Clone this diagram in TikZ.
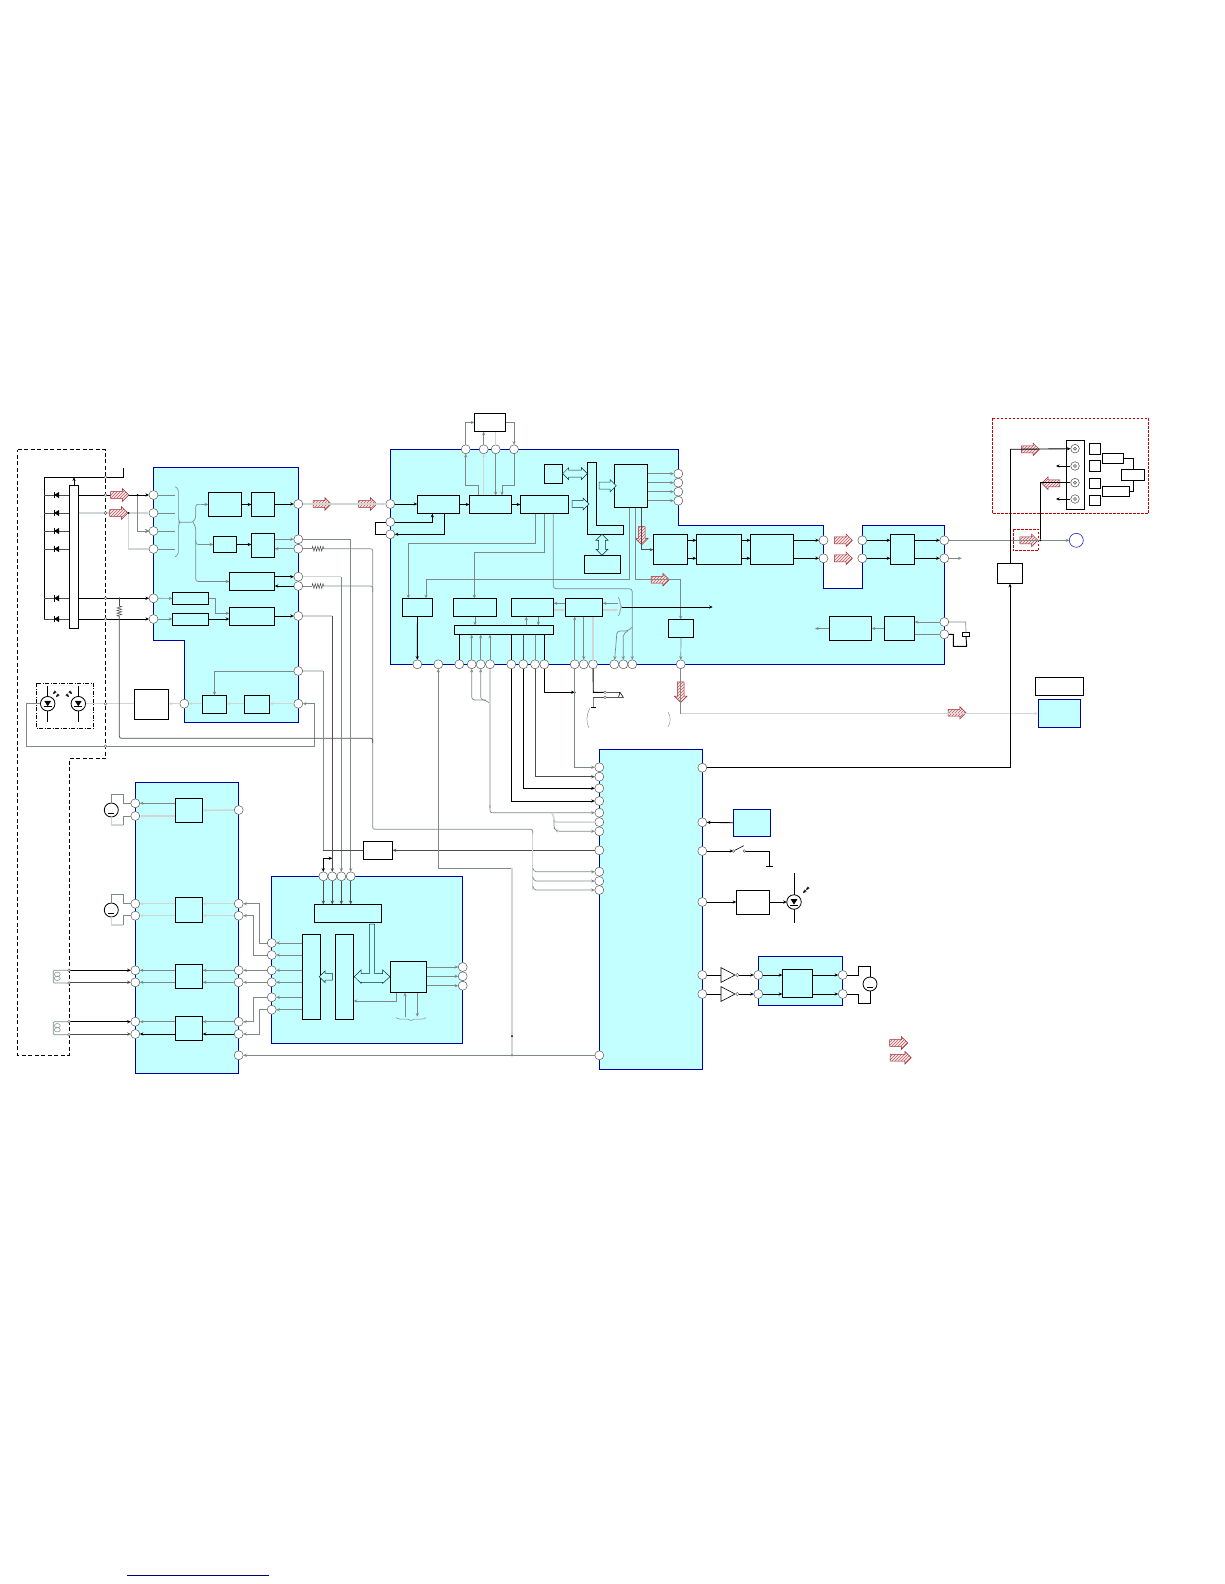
\documentclass[tikz,border=0pt]{standalone}
\usepackage{xcolor}
\usetikzlibrary{arrows.meta,shapes.arrows,patterns,calc,decorations.pathmorphing}
\definecolor{panelfill}{HTML}{C4FFFF}
\definecolor{panelline}{HTML}{0000A8}
\definecolor{hatchred}{HTML}{A02A30}
\definecolor{wiregray}{HTML}{7E8A8A}
\definecolor{wirepale}{HTML}{D0D6D6}
\newcommand{\dsym}[1]{\fill (#1)++(-2.5,0) -- ++(5,-3.2) -- ++(0,6.4) -- cycle; \draw[line width=1pt] (#1)++(-2.7,-3.4) -- ++(0,6.8);}
\newcommand{\ledsym}[1]{\fill (#1)++(-3.4,-2.8) -- ++(6.8,0) -- ++(-3.4,5.4) -- cycle; \draw[line width=.9pt] (#1)++(-4,3) -- ++(8,0);}
\newcommand{\motsym}[1]{\draw[line width=.9pt] (#1)++(-3,3.4) -- ++(6,0);}

\begin{document}
\begin{tikzpicture}[x=1pt,y=-1pt,>={Stealth[length=3.6pt,width=3.2pt]},
  panel/.style={draw=panelline,fill=panelfill,line width=1pt},
  box/.style={draw,line width=.9pt,inner sep=0,outer sep=0},
  wh/.style 2 args={minimum width=#1,minimum height=#2},
  port/.style={circle,draw=black!65,fill=white,line width=.5pt,minimum size=9,inner sep=0,outer sep=0},
  tick/.style={circle,draw=black!70,fill=white,line width=.4pt,minimum size=2.8,inner sep=0},
  dot/.style={circle,fill=black,minimum size=2,inner sep=0},
  wk/.style={black,line width=.9pt},
  wd/.style={black!70,line width=.7pt},
  wg/.style={wiregray,line width=.7pt},
  wp/.style={wirepale,line width=1.5pt},
  rst/.style={black!70,line width=.5pt,decorate,decoration={zigzag,segment length=2.6,amplitude=2.4}},
  hatch/.style={single arrow,draw=hatchred,preaction={fill=red!8},pattern=north east lines,pattern color=hatchred!75,line width=.5pt,
    minimum height=18,minimum width=12,single arrow head extend=2.8,single arrow head indent=0,inner xsep=0,inner ysep=3.2},
  hollow/.style={single arrow,draw=black!60!teal,fill=panelfill,line width=.5pt,
    minimum height=17,minimum width=12,single arrow head extend=2.5,inner xsep=0,inner ysep=3.2},
  hollowd/.style={double arrow,draw=black!60!teal,fill=panelfill,line width=.5pt,
    minimum width=12,double arrow head extend=2.5,inner xsep=0,inner ysep=3.2},
  redframe/.style={draw=red!80!black,line width=.8pt,dash pattern=on 2.5pt off 1.5pt}]
\useasboundingbox (0,0) rectangle (1224,1584);
% panels
\draw[panel] (153.5,467.5) -- (298.3,467.5) -- (298.3,722.5) -- (184.3,722.5) -- (184.3,640) -- (153.5,640) -- cycle;
\draw[panel] (135.3,782.5) rectangle (238.7,1073.3);
\draw[panel] (390.3,449.3) -- (678.3,449.3) -- (678.3,525.3) -- (823.5,525.3) -- (823.5,588.3) -- (862.3,588.3) -- (862.3,525.3) -- (944.3,525.3) -- (944.3,664.3) -- (390.3,664.3) -- cycle;
\draw[panel] (271.7,876.3) rectangle (462.7,1043);
\draw[panel] (599.3,749.3) rectangle (702.3,1069.3);
\draw[panel] (758.3,956.7) rectangle (842.7,1005.3);
\node[panel,inner sep=0,wh={42.4}{28.4}] (disp) at (1059.5,713.5) {};
\node[panel,inner sep=0,wh={37.4}{27.4}] (mem) at (752,823) {};
% frames
\draw[line width=.9pt,dash pattern=on 4pt off 2.5pt] (17.5,449.5) -- (105.5,449.5) -- (105.5,758.5) -- (69,758.5) -- (69,1055) -- (17.5,1055) -- cycle;
\draw[line width=.8pt,dash pattern=on 4pt off 1.5pt on 1pt off 1.5pt] (36.3,683.3) rectangle (93.7,728.3);
\draw[redframe] (992.3,418.3) rectangle (1148.7,513.3);
\draw[redframe] (1013,529) rectangle (1038.7,550.7);
% ports, panel a
\foreach \y [count=\i] in {495,513,531,549,598.3,619} \node[port] (a\i) at (153.5,\y) {};
\foreach \y [count=\i] in {504,539.3,548.7,576.7,586,616,671,703.7} \node[port] (ar\i) at (298.3,\y) {};
\node[port] (aw) at (184.3,703.7) {};
% ports, panel b
\foreach \y [count=\i] in {803.3,816,903.7,915.7,970.3,982.3,1021.7,1034} \node[port] (bl\i) at (135.3,\y) {};
\foreach \y [count=\i] in {810,903.7,915.7,970.3,982.3,1021.7,1034,1055.3} \node[port] (br\i) at (238.7,\y) {};
% ports, panel c
\foreach \x [count=\i] in {465.7,483.7,495.7,514} \node[port] (ct\i) at (\x,449.3) {};
\foreach \y [count=\i] in {504,522,534.3} \node[port] (cl\i) at (390.3,\y) {};
\foreach \y [count=\i] in {473.7,482.7,491.7,500.7} \node[port] (cr\i) at (678.3,\y) {};
\foreach \x [count=\i] in {417.3,438.3,459.3,471.7,480.7,490,511.3,523.3,535,544.3,574.7,583.7,593,614.3,623.3,632.3,680.7} \node[port] (cd\i) at (\x,664.3) {};
\foreach \y [count=\i] in {540.3,558.3} {
  \node[port] (cm\i) at (823.5,\y) {};
  \node[port] (cn\i) at (862.3,\y) {};
  \node[port] (ce\i) at (944.3,\y) {};
}
\foreach \y [count=\i] in {622,634.3} \node[port] (cx\i) at (944.3,\y) {};
% ports, panel d
\foreach \y [count=\i] in {943,955,970.3,982.3,997.3,1009.7} \node[port] (dl\i) at (271.7,\y) {};
\foreach \x [count=\i] in {323.3,332.3,341.3,350.7} \node[port] (dt\i) at (\x,876.3) {};
\foreach \y [count=\i] in {967,976.3,985.7} \node[port] (dr\i) at (462.7,\y) {};
% ports, panel e
\foreach \y [count=\i] in {767.3,776.7,788.3,801,812.7,822,831.3,850.3,871.7,881,890,1055.3} \node[port] (el\i) at (599.3,\y) {};
\foreach \y [count=\i] in {767.7,822.3,851,902,975,994} \node[port] (er\i) at (702.3,\y) {};
\foreach \y [count=\i] in {975,994} {
  \node[port] (fl\i) at (758.3,\y) {};
  \node[port] (fr\i) at (842.7,\y) {};
}
\node[port,draw=blue!80!black,minimum size=14] (out) at (1076.3,540.3) {};
% boxes, panel a
\node[box,fill=white,wh={9.4}{143.4}] (bar) at (74,557) {};
\node[box,wh={33.4}{24.4}] (aa) at (225,504.5) {};
\node[box,wh={23.4}{24.4}] (ab) at (263,504.5) {};
\node[box,wh={23.4}{16.4}] (ac) at (225,544.5) {};
\node[box,wh={23.4}{24}] (ad) at (263,545.3) {};
\node[box,wh={45.4}{18.4}] (ae) at (252,581.5) {};
\node[box,wh={36.4}{12.4}] (af) at (190.5,598.5) {};
\node[box,wh={36.4}{12.4}] (ag) at (190.5,619.5) {};
\node[box,wh={45.4}{18.4}] (ah) at (252,616.5) {};
\node[box,wh={24.4}{18.4}] (ai) at (214.5,704.5) {};
\node[box,wh={25.4}{18.4}] (aj) at (257,704.5) {};
\node[box,fill=white,wh={34.4}{30.4}] (ak) at (151.5,704.5) {};
% boxes, panel b
\node[box,wh={27.4}{24}] (ba) at (189,810.3) {};
\node[box,wh={27.4}{25}] (bb) at (189,909.8) {};
\node[box,wh={27.4}{24}] (bc) at (189,976.3) {};
\node[box,wh={27.4}{24}] (bd) at (189,1028.3) {};
% boxes, panel c
\node[box,fill=white,wh={31.4}{18.4}] (ca) at (490,422.5) {};
\node[box,wh={42.4}{18.4}] (cb) at (438.5,504.5) {};
\node[box,wh={42.4}{18.4}] (cc) at (490.5,504.5) {};
\node[box,wh={48.4}{18.4}] (cdsp) at (544.5,504.5) {};
\node[box,wh={18.4}{19.4}] (ce) at (553.5,474) {};
\node[box,wh={33.4}{43.4}] (cf) at (631,486) {};
\node[box,wh={36.4}{18.4}] (cg) at (602.5,564.5) {};
\node[box,wh={34.4}{30.4}] (ch) at (670.5,549.5) {};
\node[box,wh={45.4}{30.4}] (ci) at (719,549.5) {};
\node[box,wh={43.4}{30.4}] (cj) at (772,549.5) {};
\node[box,wh={24.4}{30.4}] (ck) at (902.5,549.5) {};
\node[box,wh={30.4}{18.4}] (cp) at (417.5,607.5) {};
\node[box,wh={43.4}{18.4}] (cq) at (475,607.5) {};
\node[box,wh={42.4}{18.4}] (cs) at (532.5,607.5) {};
\node[box,wh={37.4}{18.4}] (cu) at (584,607.5) {};
\node[box,wh={99.4}{9.4}] (cv) at (504,630) {};
\node[box,wh={25.4}{18.4}] (cw) at (681,628.5) {};
\node[box,wh={42.4}{24.4}] (cy) at (850.5,628.5) {};
\node[box,wh={30.4}{24.4}] (cz) at (899.5,628.5) {};
% boxes, panel d
\node[box,wh={67.4}{18.4}] (da) at (348,913.5) {};
\node[box,wh={18.4}{85.4}] (db) at (311.5,977) {};
\node[box,wh={18.4}{85.4}] (dc) at (344.5,977) {};
\node[box,wh={36.4}{31.4}] (dd) at (408.5,977) {};
% boxes, outside
\node[box,fill=white,wh={29.4}{18}] (pwr) at (378,850.3) {};
\node[box,fill=white,wh={25.4}{20.4}] (rb) at (1010,573.5) {};
\node[box,fill=white,wh={48.4}{18.4}] (dtop) at (1059.5,686.5) {};
\node[box,fill=white,wh={33.4}{24.4}] (drv) at (753,902.5) {};
\node[box,wh={30.4}{28.4}] (fa) at (797.5,983.5) {};
% jack panel
\node[box,wh={18.4}{69.4}] (jack) at (1075.5,475) {};
\foreach \y [count=\i] in {448.7,466,482.7,499} {
  \node[circle,draw=black!70,fill=white,line width=.5pt,minimum size=8.6,inner sep=0] (t\i) at (1075,\y) {};
  \draw[black!70,line width=.5pt] (t\i.center) circle (1.5);
}
\foreach \y/\h [count=\i] in {449/11,465.8/11,483.5/10.4,500.3/10.7} \node[box,wh={10.7}{\h}] (sq\i) at (1094.6,\y) {};
\node[box,wh={21.4}{10.4}] (ja) at (1113,458.5) {};
\node[box,wh={23.4}{11.4}] (jb) at (1133,475) {};
\node[box,wh={27.4}{10.4}] (jc) at (1116,491.5) {};
% symbols as nodes
\foreach \n/\x/\y in {la/47.7/703.7,lb/78.3/703.7,lc/794/902} \node[circle,draw,line width=.8pt,minimum size=14.5,inner sep=0,outer sep=0] (\n) at (\x,\y) {};
\foreach \n/\x/\y in {ma/111.3/810,mb/111.3/910,mc/870/984} \node[circle,draw,line width=.8pt,minimum size=14,inner sep=0,outer sep=0] (\n) at (\x,\y) {};
\node[box,fill=white,wh={7.4}{4.4}] (xtal) at (966,634.5) {};
% named free ends
\coordinate (busa) at (44.3,477.3);
\coordinate (busb) at (44.3,619);
\coordinate (brc) at (175,500);
\coordinate (rsa) at (312,548.7);
\coordinate (rsb) at (324,548.7);
\coordinate (rsc) at (312,586);
\coordinate (rsd) at (324,586);
\coordinate (rse) at (119.3,606);
\coordinate (rsf) at (119.3,617);
% bus and diodes
\draw[wk] (123.3,468.3) -- (123.3,477.3) -- (busa) -- (busb);
\draw[wk,->] (bar.north) -- (bar.north |- busa);
\foreach \n in {a1,a2,a3,a4,a5,a6} \draw[wd] (busa |- \n) -- (\n -| bar.west);
\draw[wk,->] (a1 -| bar.east) -- (a1);
\draw[wp,->] (a2 -| bar.east) -- (a2);
\draw[wk,->] (a5 -| bar.east) -- (a5);
\draw[wk,->] (a6 -| bar.east) -- (a6);
\foreach \n in {a1,a2,a3,a4,a5,a6} \dsym{$(busa |- \n)+(12.4,0)$}
\draw[wg,->] (137.7,0 |- a1) |- (a3);
\node[dot] at (137.7,0 |- a1) {};
\draw[wp] (128.7,0 |- a2) |- (a4);
\node[dot] at (128.7,0 |- a2) {};
% hatched arrows
\foreach \x/\y in {118/495,117/513,320.5/504,366/504,841.7/540.3,841.7/558.3,1028.7/449.3,1027.2/540.3,955.3/712.7,658.5/579.7,897/1043} \node[hatch] at (\x,\y) {};
\node[hatch,minimum height=21] at (899,1057.7) {};
\node[hatch,shape border rotate=180] at (1052.5,483.3) {};
\node[hatch,rotate=-90] at (641.7,534) {};
\node[hatch,rotate=-90,minimum height=20.5] at (680.7,690.5) {};
% panel a wires
\foreach \n in {a1,a2,a3,a4} \draw[wg] (\n) -- (\n -| brc);
\draw[wiregray,line width=.6pt,rounded corners=2] (175,486.7) -- (178.3,488.5) -- (178.3,520) -- (180,522.3) -- (178.3,525) -- (178.3,555) -- (175,556.7);
\draw[wiregray,line width=.7pt,rounded corners=2.5,->] (180,522.3) -- (193,522.3) -- (195.7,518) -- (195.7,504.3) -- (aa.west);
\draw[wiregray,line width=.7pt,rounded corners=2.5,->] (193,522.3) -- (195.7,527) -- (195.7,544.5) -- (ac.west);
\draw[wiregray,line width=.7pt,rounded corners=2.5,->] (195.7,540) -- (195.7,581.5) -- (ae.west);
\draw[wk,->] (aa) -- (ab);
\draw[wk,->] (ab.east |- ar1) -- (ar1);
\draw[wk,->] (ac) -- (ac -| ad.west);
\draw[wg,->] (ad.east |- ar2) -- (ar2);
\draw[wg,->] (ar3) -- (ad.east |- ar3);
\draw[wk,->] (ae.east |- ar4) -- (ar4);
\draw[wk,->] (ar5) -- (ae.east |- ar5);
\draw[wg,->] (a5) -- (af);
\draw[wg,->] (af.east) -- (215,598.5) -- (215,613.3) -- (ah.west |- 0,613.3);
\draw[wg,->] (a6) -- (a6 -| ag.west);
\draw[wk,->] (ag.east |- a6) -- (ah.west |- a6);
\draw[wk,->] (ah.east |- ar6) -- (ar6);
\draw[wg,->] (ar7) -| (ai);
\draw[wp,->] (ar8) -- (aj.east |- ar8);
\draw[wp,->] (aj.west |- ar8) -- (ai.east |- ar8);
\draw[wp,->] (ai.west |- ar8) -- (aw);
\draw[wp,->] (aw) -- (ak.east |- aw);
\draw[wp] (ak.west |- aw) -- (lb);
\draw[wg,->] (la) -- (26.3,0 |- la) -- (26.3,746.3) -- (314.3,746.3) |- (ar8);
\draw[wk] (78.3,686) -- (lb) -- (78.3,721.7);
\draw[wk] (47.7,686) -- (la) -- (47.7,721.7);
\ledsym{la} \ledsym{lb} \ledsym{lc}
\foreach \x/\y/\a in {53/694/1,56/697/1,72/694/-1,69/697/-1} \draw[line width=.5pt,->] (\x+3*\a,\y-3) -- (\x,\y) ;
\draw[wp,->] (ar1) -- (cl1);
% resistors and long lines
\draw[wg] (ar3) -- (rsa);
\draw[rst] (rsa) -- (rsb);
\draw[wg,rounded corners=2] (rsb) -- (372.7,548.7) -- (372.7,829.3) -- (532.7,829.3) -- (532.7,834);
\draw[wg] (ar5) -- (rsc);
\draw[rst] (rsc) -- (rsd);
\draw[wg,rounded corners=2] (rsd) -- (372.7,586) -- (372.7,592);
\node[dot] at (119.3,0 |- a5) {};
\draw[wd] (119.3,0 |- a5) -- (rse);
\draw[rst] (rse) -- (rsf);
\draw[wd,rounded corners=2] (rsf) -- (119.3,738.3) -- (372.7,738.3) -- (372.7,743);
\draw[wp] (ar2) -- (ar2 -| dt4);
\draw[wg,->] (ar2) -| (dt4);
\draw[wp] (ar4) -- (ar4 -| dt3);
\draw[wg,->] (ar4 -| dt3) -- (dt3);
\draw[wp] (ar6) -- (ar6 -| dt2);
\draw[wd,->] (ar6 -| dt2) -- (dt2);
\draw[wp] (ar7) -- (ar7 -| dt1);
\draw[wg] (ar7 -| dt1) -- (dt1 |- pwr);
\draw[wd] (pwr.west) -- (dt1 |- pwr);
\draw[wk,->] (dt1 |- 0,858.3) -- (dt1);
\draw[wk,->] (dt1 |- 0,858.3) -- (dt2 |- 0,858.3);
\draw[wd,->] (el8) -- (pwr.east);
% panel b wires
\draw[wg,<-] (bl1) -- (bl1 -| ba.west);
\draw[wp,<-] (bl2) -- (bl2 -| ba.west);
\draw[wp,<-] (ba.east) -- (br1);
\draw[wp,<-] (bl3) -- (bl3 -| bb.west);
\draw[wp,<-] (bl4) -- (bl4 -| bb.west);
\draw[wp,<-] (bb.east |- br2) -- (br2);
\draw[wp,<-] (bb.east |- br3) -- (br3);
\draw[wg,<-] (bl5) -- (bl5 -| bc.west);
\draw[wg,<-] (bl6) -- (bl6 -| bc.west);
\draw[wg,<-] (bc.east |- br4) -- (br4);
\draw[wg,<-] (bc.east |- br5) -- (br5);
\draw[wg,<-] (bl7) -- (bl7 -| bd.west);
\draw[wk,<-] (bl8) -- (bl8 -| bd.west);
\draw[wg,<-] (bd.east |- br6) -- (br6);
\draw[wk,<-] (bd.east |- br7) -- (br7);
\foreach \m/\a/\b/\c/\d in {ma/bl1/bl2/794.3/825,mb/bl3/bl4/894.3/925} {
  \draw[wg] (\m) -- (111.3,\c) -- (123.3,\c) |- (\a);
  \draw[wp] (\m) -- (111.3,\d) -- (123.3,\d);
  \draw[wg] (123.3,\d) |- (\b);
}
\motsym{ma} \motsym{mb} \motsym{mc}
% coils
\foreach \a/\b/\c/\d in {bl5/bl6/970.3/983,bl7/bl8/1021.7/1034.7} {
  \draw[wk,<-] (\a) -- (69,0 |- \a);
  \draw[wd,<-] (\b) -- (69,0 |- \b);
  \draw[wg,rounded corners=1] (69,\c) -- (53.3,\c) -- (53.3,\d) -- (69,\d);
  \draw[wg,line width=.5pt] (57.3,\c+4) ellipse (3 and 2.2);
  \draw[wg,line width=.5pt] (57.3,\c+8) ellipse (3 and 2.2);
  \node[tick] at (69,\c) {};
  \node[tick] at (69,\d) {};
}
% ticks on the frame
\foreach \y in {477.3,495,513,598.3,619,703.7,746.3} \node[tick] at (105.5,\y) {};
% b to d
\draw[wg,<-] (br2) -- (259.3,0 |- br2) |- (dl1);
\draw[wg,<-] (br3) -- (253.3,0 |- br3) |- (dl2);
\draw[wg,<-] (br4) -- (dl3);
\draw[wg,<-] (br5) -- (dl4);
\draw[wg,<-] (br6) -- (253.3,0 |- br6) |- (dl5);
\draw[wg,<-] (br7) -- (259.3,0 |- br7) |- (dl6);
% panel d wires
\foreach \n in {dl1,dl2,dl3,dl4,dl5,dl6} \draw[wg,->] (db.west |- \n) -- (\n);
\foreach \n in {dt1,dt2,dt3,dt4} \draw[wd,->] (\n) -- (\n |- da.north);
\foreach \n in {dr1,dr2,dr3} \draw[wg,->] (dd.east |- \n) -- (\n);
\draw[wg,->] (396,0 |- dd.south) -- (396,1001) -- (dc.east |- 0,1001);
\draw[wg,<-] (405,0 |- dd.south) -- (405,1016.7);
\draw[wg,->] (417.3,0 |- dd.south) -- (417.3,1016.7);
\draw[wg,line width=.5pt,rounded corners=1.5] (396,1017.5) -- (398,1019) -- (409,1019) -- (411,1021.5) -- (413,1019) -- (424,1019) -- (426,1017.5);
\node[hollow,shape border rotate=180,minimum height=13,minimum width=11] (dh) at (327.5,976.7) {};
\draw[black!60!teal,fill=panelfill,line width=.5pt] (354.3,976.7) -- (361,970) -- (361,973.7) -- (369.3,973.7) -- (369.3,924) -- (374.7,924) -- (374.7,973.7) -- (382.7,973.7) -- (382.7,970) -- (390,976.7) -- (382.7,983.3) -- (382.7,982.3) -- (361,982.3) -- (361,983.3) -- cycle;
% panel c wires
\draw[wk] (cl2) -| (375,0 |- cl3) -- (cl3);
\draw[wk,->] (cl1) -- (cb.west |- cl1);
\draw[wk,->] (cl2) -- (432.3,0 |- cl2) -- (432.3,0 |- cb.south);
\draw[wk,->] (444.3,0 |- cb.south) -- (444.3,0 |- cl3) -- (cl3);
\draw[wk,->] (cb.east) -- (cc.west);
\draw[wk,->] (cc.east) -- (cdsp.west);
\draw[wg,->] (478.3,0 |- cc.north) -- (478.3,485.7) -- (465.7,485.7) -- (ct1);
\draw[wp,->] (ct2 |- cc.north) -- (ct2);
\draw[wg,->] (ct3) -- (ct3 |- cc.north);
\draw[wg,->] (ct4) -- (514,485.7) -- (502,485.7) -- (502,0 |- cc.north);
\draw[wg,->] (ct1) |- (ca.west);
\draw[wg,<-] (ct4) |- (ca.east);
\draw[wg,->] (ct2) -- (ct2 |- ca.south);
\draw[wp] (ca.south -| ct3) -- (ct3);
\draw[black] (587.3,462) -- (596.3,462) -- (596.3,525.3) -- (623.3,525.3) -- (623.3,534.3) -- (587.3,534.3) -- cycle;
\node[hollowd,minimum height=24.7] (arr1) at (575,473.7) {};
\node[hollow,minimum height=17] (arr2) at (578.8,504) {};
\node[hollow,minimum height=17,draw=black!40!teal] (arr3) at (606,485.7) {};
\node[hollowd,rotate=90,minimum height=21] (arr4) at (602,544.8) {};
\foreach \n in {cr1,cr2,cr3,cr4} \draw[wg,->] (cf.east |- \n) -- (\n);
\draw[wg,->] (535.3,0 |- cdsp.south) -- (535.3,543.3) -- (408.3,543.3) -- (408.3,0 |- cp.north);
\draw[wg,->] (544.3,0 |- cdsp.south) -- (544.3,552.3) -- (474.3,552.3) -- (474.3,0 |- cq.north);
\draw[wg,rounded corners=3,->] (553.3,0 |- cdsp.south) -- (553.3,588.7) -- (632.3,588.7) -- (cd16);
\draw[wg,rounded corners=3,->] (632.3,627) -- (628,631) -- (617,631) -- (cd14);
\draw[wg,rounded corners=2,->] (628,631) -- (623.3,634) -- (cd15);
\draw[wg,->] (629.7,0 |- cf.south) -- (629.7,579.7) -- (426,579.7) -- (426,0 |- cp.north);
\draw[wg,->] (635.3,0 |- cf.south) -- (635.3,579.7) -- (680.7,579.7) -- (680.7,0 |- cw.north);
\draw[wd,->] (641.3,0 |- cf.south) -- (641.3,549.7) -- (ch.west |- 0,549.7);
\draw[wk,->] (ch.east |- cm1) -- (ci.west |- cm1);
\draw[wk,->] (ch.east |- cm2) -- (ci.west |- cm2);
\draw[wk,->] (ci.east |- cm1) -- (cj.west |- cm1);
\draw[wk,->] (ci.east |- cm2) -- (cj.west |- cm2);
\draw[wk,->] (cj.east |- cm1) -- (cm1);
\draw[wk,->] (cj.east |- cm2) -- (cm2);
\draw[wk,->] (cn1) -- (ck.west |- cn1);
\draw[wk,->] (cn2) -- (ck.west |- cn2);
\draw[wk,->] (ck.east |- ce1) -- (ce1);
\draw[wk,->] (ck.east |- ce2) -- (ce2);
\draw[wg,->] (ce1) -- (out);
\draw[wg,->] (ce2) -- (961.7,0 |- ce2);
\draw[wk,->] (cp) -- (cd1);
\draw[wg,<-] (cd2) -- (438.3,868.3) -- (512,868.3);
\draw[wp] (512,868.3) -- (512,1055.3);
\node[dot] at (512,1036) {};
\node[dot] (jn) at (512,1055.3) {};
\draw[wg,->] (el12) -- (br8);
\draw[wg,->] (cq.south) -- (cq.south |- cv.north);
\draw[wg,<-] (526.3,0 |- cs.south) -- (526.3,0 |- cv.north);
\draw[wg,->] (538.3,0 |- cs.south) -- (538.3,0 |- cv.north);
\draw[wg,->] (cu.west |- 0,603.3) -- (cs.east |- 0,603.3);
\draw[wp,->] (cs.east |- 0,610) -- (cu.west |- 0,610);
\draw[wg,<-] (cu.east |- 0,603.3) -- (618,603.3);
\draw[wp,->] (cu.east |- 0,610) -- (618,610);
\draw[wiregray,line width=.6pt,rounded corners=1.5] (618,597.3) -- (620,600) -- (620,605) -- (622,607) -- (620,609) -- (620,614) -- (618,616);
\draw[wk,->] (621.5,607) -- (712.7,607);
\draw[wk] (cv.south -| cd3) -- (cd3);
\foreach \n in {cd4,cd5,cd6} \draw[wg,->] (\n) -- (\n |- cv.south);
\draw[wk] (cv.south -| cd7) -- (cd7);
\draw[wd] (cv.south -| cd8) -- (cd8);
\draw[wg] (cv.south -| cd9) -- (cd9);
\draw[wk] (cv.south -| cd10) -- (cd10);
\draw[wg,->] (cd11) -- (cd11 |- cu.south);
\draw[wg,->] (cu.south -| cd12) -- (cd12);
\draw[wp] (cu.south -| cd13) -- (cd13);
\draw[wg,->] (cw.south) -- (cd17);
\draw[wg,->] (cx1) -- (cz.east |- cx1);
\draw[wg] (cz.east |- cx2) -- (cx2);
\draw[wg,->] (cz.west) -- (cy.east);
\draw[wg,->] (cy.west) -- (815,628.5);
\draw[wg] (cx1) -- (965.7,622) -- (xtal.north);
\draw[wk] (cx2) -- (953.3,634.3) -- (953.3,646.3) -- (966.7,646.3) -- (xtal.south);
% panel c to e
\draw[wg] (cd17) -- (cd17 |- disp);
\draw[wp,->] (cd17 |- disp) -- (disp.west);
\draw[wk,->] (er1) -| (rb.south);
\draw[wk] (rb.north) -- (1010,449.3);
\draw[wk,->] (1010,449.3) -- (t1);
\node[dot] (jo) at (1040.3,540.3) {};
\draw[wk] (jo) |- (t3);
\draw[wk,<-] (1056,466) -- (t2);
\draw[wk,<-] (1056,499) -- (t4);
\draw[wk] (ja.east) -- (1133.3,0 |- ja.east) -- (1133.3,0 |- jb.north);
\draw[wk] (jc.east) -- (1133.3,0 |- jc.east) -- (1133.3,0 |- jb.south);
\draw[wk,->] (cd10) |- (574.7,692.3);
\node[dot] at (574.7,692.3) {};
\draw[wg,->] (cd11) |- (el1);
\draw[wd,->] (cd9) |- (el2);
\draw[wk,->] (cd8) |- (el3);
\draw[wk,->] (cd7) |- (el4);
\draw[wg,rounded corners=3,<-] (cd4) -- (471.7,700) -- (486,700) -- (490,704);
\draw[wg,rounded corners=3,<-] (cd5) -- (480.7,700) -- (486,700);
\draw[wp,<-] (cd6) -- (490,808);
\draw[wg,rounded corners=2,->] (490,805) -- (490,812.7) -- (el5);
\draw[wp,rounded corners=1.5] (551.7,812.7) -- (554,817) -- (554,822) -- (el6);
\draw[wg,rounded corners=2.5,->] (554,820) -- (554,828) -- (557,831.3) -- (el7);
\draw[wk] (cd13) -- (593.3,692.3) -- (605,692.3);
\draw[wg] (593.3,697.3) -- (593.3,707);
\draw[wd] (605,697.3) -- (593.3,697.3);
\draw[wk,line width=.6pt] (605,692.3) -- (620,692.3) -- (618.5,697.3) -- (605,697.3) (620,692.3) -- (623.3,697.3) -- (618.5,697.3);
\node[tick] at (605,692.3) {};
\node[tick] at (605,697.3) {};
\draw[line width=.5pt] (590.5,707.5) -- (596,707.5);
\draw[black!50,line width=.4pt] (590,708) .. controls (586,716) and (586,722) .. (589,728);
\draw[black!50,line width=.4pt] (668,712) .. controls (671,717) and (671,722) .. (668,727);
\draw[wp] (532.7,834) -- (532.7,890);
\draw[wg,rounded corners=1.5,->] (532.7,868) -- (534.5,871.7) -- (el9);
\draw[wg,rounded corners=1.5,->] (532.7,877) -- (534.5,881) -- (el10);
\draw[wg,rounded corners=1.5,->] (532.7,886) -- (534.5,890) -- (el11);
% panel e, right side
\draw[wk,->] (mem) -- (er2);
\draw[wk,->] (er3) -- (733.3,851);
\draw[wk,line width=.6pt] (734.6,850.4) -- (743.7,845.7);
\draw[wk] (744.3,851) -- (769.3,851) -- (769.3,866);
\node[tick] at (733.3,851) {};
\node[tick] at (744.3,851) {};
\draw[line width=.6pt] (766,866) -- (772.5,866);
\draw[wk,->] (er4) -- (drv.west |- er4);
\draw[wk,->] (drv.east |- er4) -- (lc);
\draw[wk] (794,873.3) -- (lc) -- (794,922.7);
\foreach \x/\y in {803/893,806/890} \draw[line width=.6pt,<-] (\x,\y) -- (\x+3,\y-3);
\foreach \p/\q/\y [count=\i] in {er5/fl1/975,er6/fl2/994} {
  \draw[wk] (\p) -- (721,\y);
  \draw[line width=.6pt,fill=white] (721,\y-7.4) -- (735,\y) -- (721,\y+7.4) -- cycle;
  \node[tick,minimum size=3.2] (inv\i) at (737.2,\y) {};
  \draw[wk,->] (inv\i) -- (\q);
  \draw[wk,->] (\q) -- (fa.west |- \q);
}
\draw[wk,->] (fa.east |- fr1) -- (fr1);
\draw[wk,->] (fa.east |- fr2) -- (fr2);
\draw[wk] (fr1) -- (858.3,975) -- (858.3,966.7) -- (870,966.7) -- (mc);
\draw[wk] (fr2) -- (858.3,994) -- (858.3,1003.3) -- (870,1003.3) -- (mc);
% bottom rule
\draw[panelline!70!black,line width=1pt] (127.3,1575.3) -- (269,1575.3);
\end{tikzpicture}
\end{document}
